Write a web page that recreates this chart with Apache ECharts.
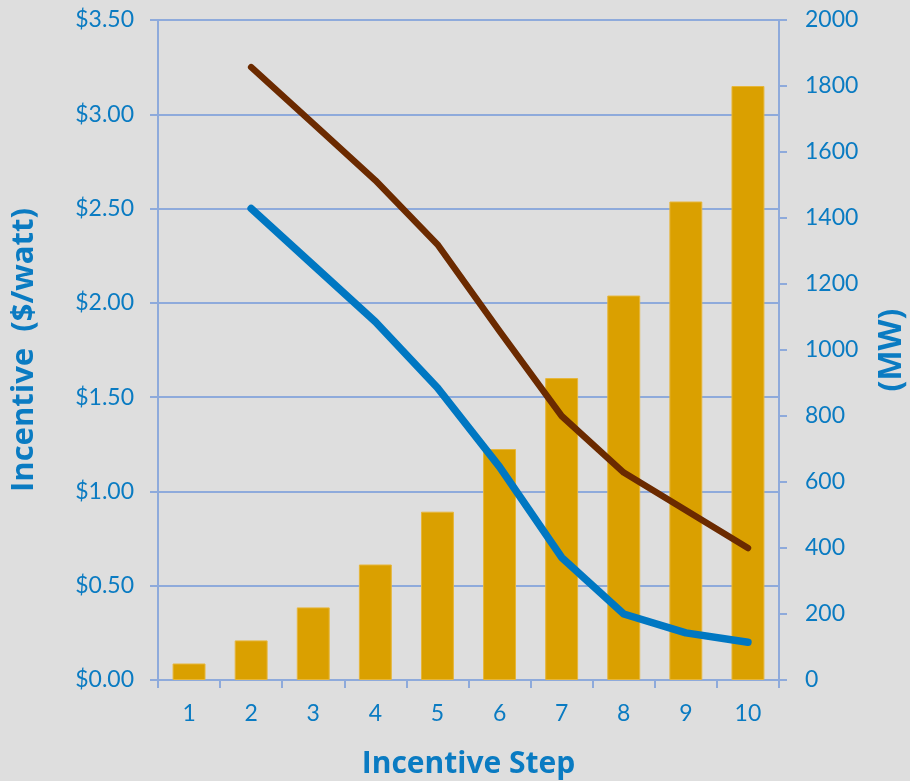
<!DOCTYPE html>
<html>
<head>
<meta charset="utf-8">
<script src="https://cdn.jsdelivr.net/npm/echarts@6/dist/echarts.min.js"></script>
<style>
html,body{margin:0;padding:0;background:#dedede;}
#chart{width:910px;height:781px;}
</style>
</head>
<body>
<div id="chart"></div>
<script>
const steps = ['1','2','3','4','5','6','7','8','9','10'];
const capacityMW = [50, 120, 220, 350, 510, 700, 915, 1165, 1450, 1800];
const incentiveHigh = [null, 3.25, 2.95, 2.65, 2.31, 1.85, 1.40, 1.10, 0.90, 0.70];
const incentiveLow = [null, 2.50, 2.20, 1.90, 1.55, 1.13, 0.65, 0.35, 0.25, 0.20];

const textColor = '#0a7bc2';
const axisColor = '#8eaadb';
const font = 'Lato';
const titleFont = 'Open Sans';

const chart = echarts.init(document.getElementById('chart'));
chart.setOption({
  backgroundColor: '#dedede',
  animation: false,
  grid: {left: 158, right: 131, top: 20, bottom: 101, containLabel: false, outerBoundsMode: 'none'},
  xAxis: {
    type: 'category',
    data: steps,
    name: 'Incentive Step',
    nameLocation: 'middle',
    nameGap: 69,
    nameTextStyle: {color: textColor, fontSize: 30, fontWeight: 'bold', fontFamily: titleFont},
    axisLine: {lineStyle: {color: axisColor, width: 2}},
    axisTick: {show: true, length: 8, lineStyle: {color: axisColor, width: 2}},
    axisLabel: {color: textColor, fontSize: 23, fontFamily: font, margin: 22}
  },
  yAxis: [
    {
      type: 'value', min: 0, max: 3.5, interval: 0.5, position: 'left',
      name: 'Incentive  ($/watt)',
      nameLocation: 'middle', nameRotate: 90, nameGap: 118,
      nameTextStyle: {color: textColor, fontSize: 31, fontWeight: 'bold', fontFamily: titleFont, padding: [0, 0, 0, 0]},
      axisLine: {show: true, lineStyle: {color: axisColor, width: 2}},
      axisTick: {show: true, length: 8, lineStyle: {color: axisColor, width: 2}},
      axisLabel: {color: textColor, fontSize: 23, fontFamily: font, margin: 24,
        formatter: v => '$' + v.toFixed(2)},
      splitLine: {show: true, lineStyle: {color: axisColor, width: 2}}
    },
    {
      type: 'value', min: 0, max: 2000, interval: 200, position: 'right',
      name: '(MW)',
      nameLocation: 'middle', nameRotate: 90, nameGap: 97,
      nameTextStyle: {color: textColor, fontSize: 32, fontWeight: 'bold', fontFamily: titleFont},
      axisLine: {show: true, lineStyle: {color: axisColor, width: 2}},
      axisTick: {show: true, length: 8, lineStyle: {color: axisColor, width: 2}},
      axisLabel: {color: textColor, fontSize: 23, fontFamily: font, margin: 26,
        formatter: v => String(v)},
      splitLine: {show: false}
    }
  ],
  series: [
    {
      type: 'bar', yAxisIndex: 1, data: capacityMW, barWidth: '53%',
      itemStyle: {color: '#daa000', borderColor: '#e6b63a', borderWidth: 1}, z: 2
    },
    {
      type: 'line', yAxisIndex: 0, data: incentiveHigh, symbol: 'none', smooth: false,
      lineStyle: {color: '#6b2a00', width: 6.5, cap: 'round', join: 'round'}, z: 3
    },
    {
      type: 'line', yAxisIndex: 0, data: incentiveLow, symbol: 'none', smooth: false,
      lineStyle: {color: '#0077c2', width: 7.5, cap: 'round', join: 'round'}, z: 4
    }
  ]
});
</script>
</body>
</html>
